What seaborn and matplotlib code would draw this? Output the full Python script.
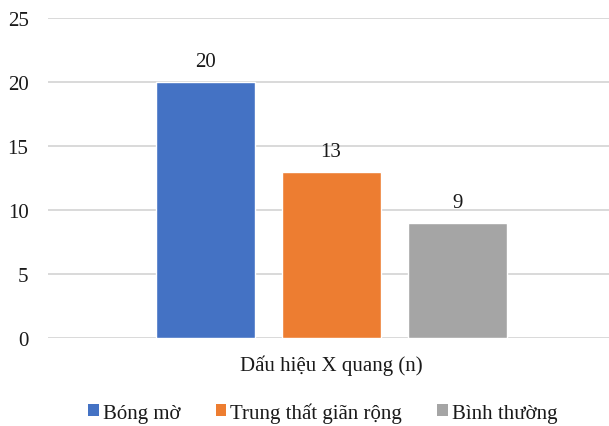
import matplotlib
matplotlib.use("Agg")
import matplotlib.pyplot as plt
import seaborn as sns
import pandas as pd
from matplotlib.patches import Patch

# Data
category = "Dấu hiệu X quang (n)"
series = ["Bóng mờ", "Trung thất giãn rộng", "Bình thường"]
values = [20, 13, 9]
colors = ["#4472C4", "#ED7D31", "#A5A5A5"]
yticks = [0, 5, 10, 15, 20, 25]

df = pd.DataFrame({"group": [category] * len(series), "series": series, "n": values})

sns.set_theme(style="white")
plt.rcParams["font.family"] = ["Liberation Serif", "DejaVu Serif"]

text_color = "#1a1a1a"
fs = 15

fig = plt.figure(figsize=(6.09, 4.27), dpi=100)
ax = fig.add_axes([0.0788, 0.206, 0.9212, 0.7495])

sns.barplot(data=df, x="group", y="n", hue="series", hue_order=series,
            palette=colors, gap=0.214, width=0.8, saturation=1,
            legend=False, ax=ax)

for container in ax.containers:
    ax.bar_label(container, fmt="%d", padding=8, fontsize=fs, color=text_color)

ax.set_ylim(0, 25)
ax.set_yticks(yticks)
ax.set_xlim(-0.599, 0.588)
ax.grid(axis="y", color="#d9d9d9", linewidth=1.4)
ax.set_axisbelow(True)
for s in ax.spines.values():
    s.set_visible(False)
ax.tick_params(axis="y", length=0, labelsize=fs, colors=text_color, pad=14)
ax.tick_params(axis="x", length=0, labelsize=fs, colors=text_color, pad=12)
ax.set_xlabel("")
ax.set_ylabel("")

handles = [Patch(facecolor=c, edgecolor="none") for c in colors]
fig.legend(handles, series, loc="center", bbox_to_anchor=(0.53, 0.032),
           ncol=3, frameon=False, fontsize=fs, handlelength=0.5,
           handleheight=0.5, handletextpad=0.2, columnspacing=1.7,
           labelcolor=text_color)

fig.savefig("out.png", dpi=100)
